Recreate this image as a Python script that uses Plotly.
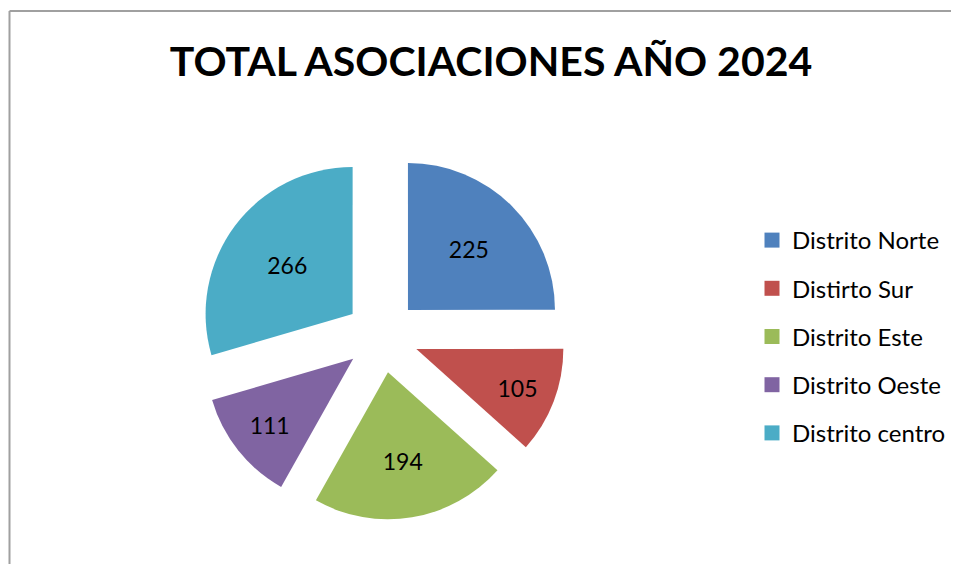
import plotly.graph_objects as go

categories = ["Distrito Norte", "Distirto Sur", "Distrito Este", "Distrito Oeste", "Distrito centro"]
values = [225, 105, 194, 111, 266]
colors = ["#4F81BD", "#C0504D", "#9BBB59", "#8064A2", "#4BACC6"]
title_text = "TOTAL ASOCIACIONES AÑO 2024"

W, H = 943, 556            # figure size (page body adds an 8px margin on each side)
cx, cy = 374, 328          # pie centre in pixels
R = 147                    # slice radius
pull = 0.25
half = R * (1 + pull)

fig = go.Figure()
fig.add_trace(go.Pie(
    labels=categories, values=values, sort=False, direction="clockwise", rotation=0,
    marker=dict(colors=colors, line=dict(width=0)),
    pull=[pull] * len(values),
    textinfo="value", textposition="inside", insidetextorientation="horizontal",
    textfont=dict(family="Lato, sans-serif", size=23, color="black"),
    domain=dict(x=[(cx - half) / W, (cx + half) / W], y=[(H - cy - half) / H, (H - cy + half) / H]),
    showlegend=False, hoverinfo="label+value",
))

for i, (c, col) in enumerate(zip(categories, colors)):
    fig.add_trace(go.Scatter(
        x=[None], y=[None], mode="markers", name=c, legendgroup=f"g{i}",
        marker=dict(symbol="square", size=15, color=col), showlegend=True,
    ))

bx, by = 1.5 / W, 1 - 3 / H
border = dict(color="#A0A0A0", width=2)
fig.update_layout(
    width=W, height=H, margin=dict(l=0, r=0, t=0, b=0),
    paper_bgcolor="white", plot_bgcolor="white",
    xaxis=dict(visible=False), yaxis=dict(visible=False),
    title=dict(text=f"<b>{title_text}</b>", x=483 / W, xanchor="center", y=1 - 54 / H, yanchor="middle",
               font=dict(family="Lato, sans-serif", size=41, color="black")),
    legend=dict(x=744 / W, y=1 - 210 / H, xanchor="left", yanchor="top",
                font=dict(family="Lato, sans-serif", size=24, color="black"),
                tracegroupgap=14, itemsizing="trace", bgcolor="rgba(0,0,0,0)"),
    shapes=[
        dict(type="line", xref="paper", yref="paper", x0=bx, x1=bx, y0=0, y1=by, line=border, layer="below"),
        dict(type="line", xref="paper", yref="paper", x0=bx, x1=1.0, y0=by, y1=by, line=border, layer="below"),
    ],
)

fig.write_html("out.html", config={"displayModeBar": False})
